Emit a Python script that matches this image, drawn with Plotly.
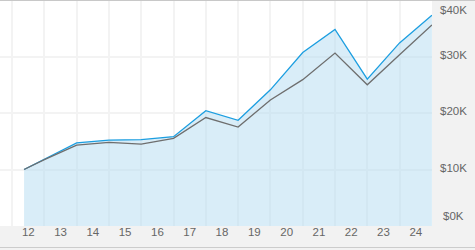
import plotly.graph_objects as go

# ---- data ----
dates = ["2012-05-15", "2012-12-31", "2013-12-31", "2014-12-31", "2015-12-31",
         "2016-12-31", "2017-12-31", "2018-12-31", "2019-12-31", "2020-12-31",
         "2021-12-31", "2022-12-31", "2023-12-31", "2024-12-31"]
fund = [10000, 11800, 14700, 15200, 15300, 15800, 20400, 18700, 24100, 30700,
        34800, 26000, 32400, 37300]
benchmark = [10000, 11750, 14300, 14800, 14500, 15500, 19200, 17500, 22300, 25900,
             30600, 25000, 30300, 35600]
x_tick_vals = ["2012-07-02", "2013-07-02", "2014-07-02", "2015-07-02", "2016-07-02",
               "2017-07-02", "2018-07-02", "2019-07-02", "2020-07-02", "2021-07-02",
               "2022-07-02", "2023-07-02", "2024-07-02"]
x_tick_text = ["12", "13", "14", "15", "16", "17", "18", "19", "20", "21", "22", "23", "24"]
y_tick_vals = [0, 10000, 20000, 30000, 40000]
y_tick_text = ["$0K", "$10K", "$20K", "$30K", "$40K"]
y_label_shift = [10, 2, 2, 2, -10]

fig = go.Figure()
fig.add_trace(go.Scatter(
    x=dates, y=fund, mode="lines", fill="tozeroy",
    fillcolor="rgba(179,219,241,0.5)",
    line=dict(color="#1c9ee0", width=1.3), hoverinfo="skip", showlegend=False))
fig.add_trace(go.Scatter(
    x=dates, y=benchmark, mode="lines",
    line=dict(color="#6e6e6e", width=1.3), hoverinfo="skip", showlegend=False))

font = dict(family="Arial", size=11.5, color="#666666")
grid = "#f3f3f3"

fig.update_layout(
    width=475, height=250,
    margin=dict(l=0, r=43, t=0, b=24),
    paper_bgcolor="#f2f2f2", plot_bgcolor="#ffffff",
    font=font,
    xaxis=dict(
        type="date", range=["2011-08-17", "2025-01-01"],
        tickmode="array", tickvals=x_tick_vals, ticktext=x_tick_text,
        showgrid=False, ticks="", zeroline=False, showline=False,
        tickfont=font, ticklabelstandoff=-3,
        minor=dict(tickmode="linear", tick0="2012-01-01", dtick="M12",
                   showgrid=True, gridcolor=grid, gridwidth=2, ticks=""),
    ),
    yaxis=dict(
        range=[0, 40000], tickmode="array", tickvals=y_tick_vals,
        showticklabels=False, showgrid=True, gridcolor=grid, gridwidth=2,
        zeroline=False, showline=False, ticks="",
    ),
)

for v, t, s in zip(y_tick_vals, y_tick_text, y_label_shift):
    fig.add_annotation(x=1, xref="paper", y=v, yref="y", text=t, showarrow=False,
                       xanchor="center", yanchor="middle", xshift=21, yshift=s,
                       font=font)

# borders
fig.add_shape(type="line", xref="paper", yref="paper", x0=0, x1=1.1, y0=1, y1=1,
              line=dict(color="#c8c8c8", width=2))
fig.add_shape(type="line", xref="paper", yref="paper", x0=0, x1=1.1,
              y0=-21.5 / 226, y1=-21.5 / 226, line=dict(color="#cccccc", width=1))

fig.write_html("out.html")
